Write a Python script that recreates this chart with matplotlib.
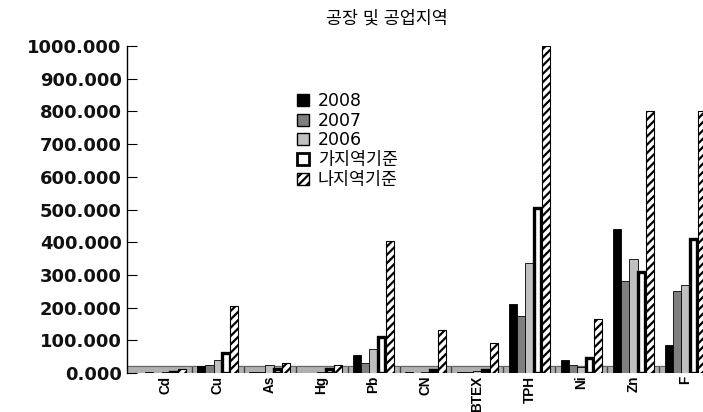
import numpy as np
import matplotlib
matplotlib.use('Agg')
import matplotlib.pyplot as plt
from matplotlib.patches import Patch

plt.rcParams['font.family'] = ['Liberation Sans', 'Noto Sans CJK KR']
plt.rcParams['hatch.linewidth'] = 1.6

# 데이터
elements = ['Cd', 'Cu', 'As', 'Hg', 'Pb', 'CN', 'BTEX', 'TPH', 'Ni', 'Zn', 'F']
y2008 = [1.5, 22, 3, 1, 55, 2, 3, 210, 40, 440, 85]
y2007 = [1.0, 25, 4, 1, 30, 1, 2, 175, 25, 280, 250]
y2006 = [2.0, 40, 25, 2, 72, 2, 5, 335, 18, 350, 270]
ga_std = [4, 60, 12, 12, 110, 8, 8, 505, 45, 310, 410]
na_std = [12, 205, 30, 25, 405, 130, 90, 1000, 165, 800, 800]
series_names = ['2008', '2007', '2006', '가지역기준', '나지역기준']
yticks = np.arange(0, 1001, 100)

fig = plt.figure(figsize=(7.03, 4.12), dpi=100)
ax = fig.add_axes([0.181, 0.095, 0.819, 0.793])

x = np.arange(len(elements))
w = 0.16
offs = np.array([-2, -1, 0, 1, 2]) * w

# 바닥면
ax.axhspan(0, 20, color='#b0b0b0', zorder=1)
ax.vlines(x[:-1] + 0.5, 0, 20, color='#444444', lw=1, zorder=1)
ax.axhline(20, color='#666666', lw=0.8, zorder=1)

ax.bar(x + offs[0], y2008, w, color='black', edgecolor='black', lw=0.6, zorder=3)
ax.bar(x + offs[1], y2007, w, color='#7f7f7f', edgecolor='black', lw=0.6, zorder=3)
ax.bar(x + offs[2], y2006, w, color='#c0c0c0', edgecolor='black', lw=0.6, zorder=3)
ax.bar(x + offs[3], ga_std, w * 0.85, color='white', edgecolor='black', lw=2.4, zorder=3)
ax.bar(x + offs[4], na_std, w, color='white', edgecolor='black', lw=0.8, hatch='////', zorder=3)

ax.set_xlim(-0.74, 10.34)
ax.set_ylim(0, 1000)
ax.set_yticks(yticks)
ax.set_yticklabels([f'{v:.3f}' for v in yticks], fontsize=13, fontweight='bold',
                   family='DejaVu Sans', color='#111111')
ax.tick_params(axis='y', direction='in', length=7, pad=4)
ax.set_xticks(x)
ax.set_xticklabels(elements, rotation=90, fontsize=9.8, fontweight='bold')
ax.tick_params(axis='x', length=0, pad=2)

for s in ['top', 'right', 'bottom']:
    ax.spines[s].set_visible(False)
ax.spines['left'].set_linewidth(1.0)

fig.text(387 / 703, 1 - 18 / 412, '공장 및 공업지역', ha='center', va='center', fontsize=12.5)

handles = [
    Patch(facecolor='black', edgecolor='black'),
    Patch(facecolor='#7f7f7f', edgecolor='black'),
    Patch(facecolor='#c0c0c0', edgecolor='black'),
    Patch(facecolor='white', edgecolor='black', lw=2),
    Patch(facecolor='white', edgecolor='black', hatch='////'),
]
leg = fig.legend(handles, series_names, loc='upper left',
                 bbox_to_anchor=(290 / 703, 1 - 85 / 412), frameon=False,
                 prop={'family': ['DejaVu Sans', 'Noto Sans CJK KR'], 'size': 12.5},
                 handlelength=0.7, handleheight=0.7,
                 handletextpad=0.5, labelspacing=0.1, borderaxespad=0)

fig.savefig('out.png', dpi=100)
